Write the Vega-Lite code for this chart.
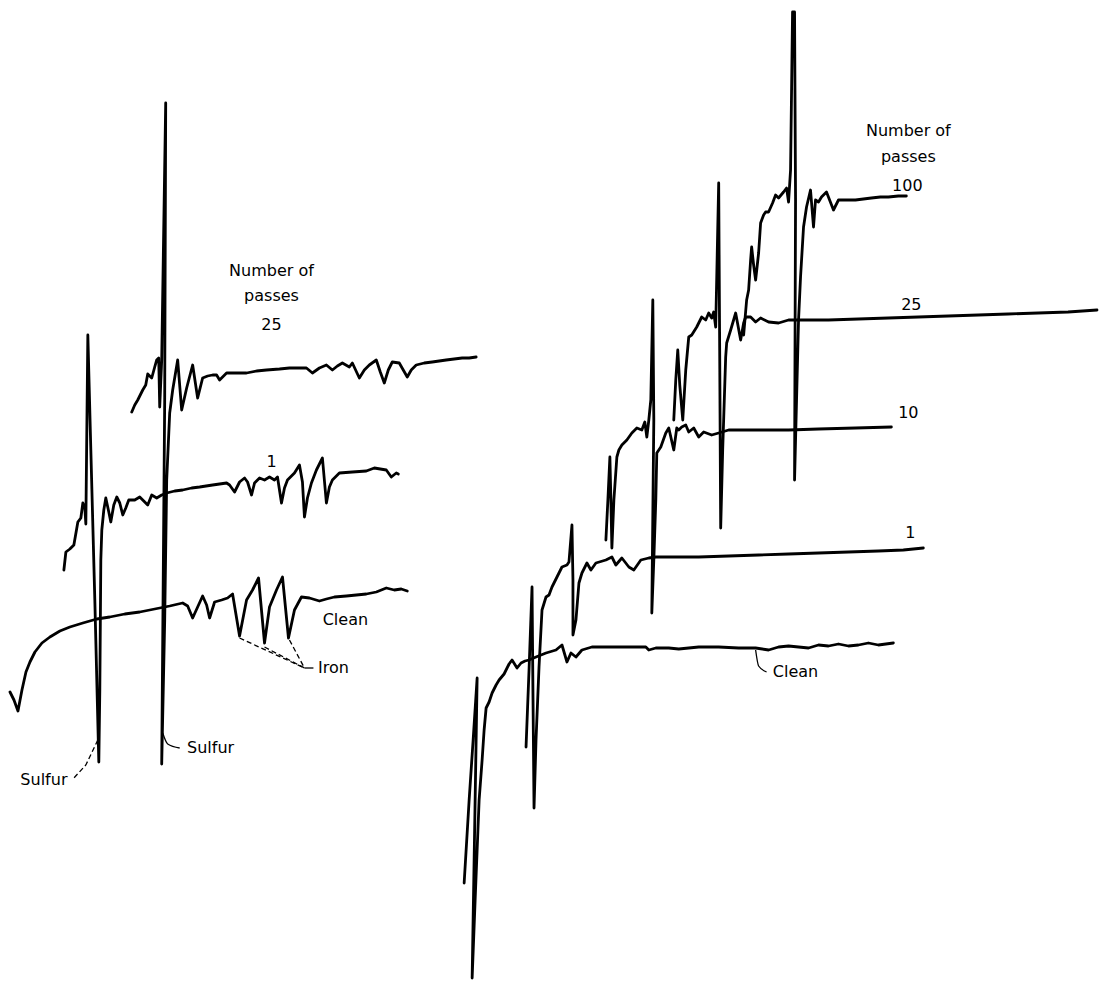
{
  "$schema": "https://vega.github.io/schema/vega-lite/v6.json",
  "autosize": {"type": "fit", "contains": "padding"},
  "width": 1099,
  "height": 982,
  "padding": 0,
  "background": "white",
  "config": {"view": {"stroke": null}},
  "datasets": {
    "traces": [
      {"s":"L0","i":0,"x":10,"y":692},{"s":"L0","i":1,"x":14,"y":700},{"s":"L0","i":2,"x":18,"y":711},{"s":"L0","i":3,"x":22,"y":690},{"s":"L0","i":4,"x":26,"y":672},{"s":"L0","i":5,"x":30,"y":662},{"s":"L0","i":6,"x":35,"y":652},{"s":"L0","i":7,"x":42,"y":643},{"s":"L0","i":8,"x":50,"y":637},{"s":"L0","i":9,"x":60,"y":631},{"s":"L0","i":10,"x":70,"y":627},{"s":"L0","i":11,"x":83,"y":623},{"s":"L0","i":12,"x":97,"y":619},{"s":"L0","i":13,"x":110,"y":617},{"s":"L0","i":14,"x":125,"y":614},{"s":"L0","i":15,"x":140,"y":612},{"s":"L0","i":16,"x":155,"y":609},{"s":"L0","i":17,"x":170,"y":606},{"s":"L0","i":18,"x":183,"y":603},{"s":"L0","i":19,"x":188,"y":606},{"s":"L0","i":20,"x":193,"y":618},{"s":"L0","i":21,"x":198,"y":607},{"s":"L0","i":22,"x":203,"y":596},{"s":"L0","i":23,"x":207,"y":605},{"s":"L0","i":24,"x":210,"y":618},{"s":"L0","i":25,"x":215,"y":602},{"s":"L0","i":26,"x":222,"y":600},{"s":"L0","i":27,"x":228,"y":598},{"s":"L0","i":28,"x":233,"y":594},{"s":"L0","i":29,"x":240,"y":636},{"s":"L0","i":30,"x":247,"y":600},{"s":"L0","i":31,"x":253,"y":590},{"s":"L0","i":32,"x":259,"y":578},{"s":"L0","i":33,"x":265,"y":643},{"s":"L0","i":34,"x":270,"y":607},{"s":"L0","i":35,"x":277,"y":590},{"s":"L0","i":36,"x":283,"y":577},{"s":"L0","i":37,"x":289,"y":638},{"s":"L0","i":38,"x":295,"y":610},{"s":"L0","i":39,"x":302,"y":597},{"s":"L0","i":40,"x":310,"y":598},{"s":"L0","i":41,"x":320,"y":601},{"s":"L0","i":42,"x":327,"y":599},{"s":"L0","i":43,"x":335,"y":597},{"s":"L0","i":44,"x":347,"y":596},{"s":"L0","i":45,"x":357,"y":595},{"s":"L0","i":46,"x":367,"y":594},{"s":"L0","i":47,"x":377,"y":592},{"s":"L0","i":48,"x":387,"y":588},{"s":"L0","i":49,"x":395,"y":590},{"s":"L0","i":50,"x":402,"y":589},{"s":"L0","i":51,"x":408,"y":591},

      {"s":"L1","i":0,"x":64,"y":570},{"s":"L1","i":1,"x":66,"y":552},{"s":"L1","i":2,"x":70,"y":549},{"s":"L1","i":3,"x":74,"y":545},{"s":"L1","i":4,"x":78,"y":522},{"s":"L1","i":5,"x":81,"y":518},{"s":"L1","i":6,"x":83,"y":503},{"s":"L1","i":7,"x":85,"y":508},{"s":"L1","i":8,"x":86,"y":524},{"s":"L1","i":9,"x":88,"y":335},{"s":"L1","i":10,"x":91,"y":450},{"s":"L1","i":11,"x":95,"y":600},{"s":"L1","i":12,"x":99,"y":762},{"s":"L1","i":13,"x":100,"y":690},{"s":"L1","i":14,"x":101,"y":560},{"s":"L1","i":15,"x":102,"y":530},{"s":"L1","i":16,"x":104,"y":510},{"s":"L1","i":17,"x":106,"y":498},{"s":"L1","i":18,"x":109,"y":512},{"s":"L1","i":19,"x":111,"y":522},{"s":"L1","i":20,"x":114,"y":505},{"s":"L1","i":21,"x":117,"y":497},{"s":"L1","i":22,"x":120,"y":503},{"s":"L1","i":23,"x":123,"y":515},{"s":"L1","i":24,"x":126,"y":508},{"s":"L1","i":25,"x":129,"y":500},{"s":"L1","i":26,"x":135,"y":500},{"s":"L1","i":27,"x":140,"y":497},{"s":"L1","i":28,"x":145,"y":502},{"s":"L1","i":29,"x":148,"y":505},{"s":"L1","i":30,"x":152,"y":495},{"s":"L1","i":31,"x":157,"y":498},{"s":"L1","i":32,"x":162,"y":495},{"s":"L1","i":33,"x":167,"y":493},{"s":"L1","i":34,"x":175,"y":491},{"s":"L1","i":35,"x":183,"y":490},{"s":"L1","i":36,"x":192,"y":488},{"s":"L1","i":37,"x":200,"y":487},{"s":"L1","i":38,"x":213,"y":485},{"s":"L1","i":39,"x":227,"y":483},{"s":"L1","i":40,"x":230,"y":485},{"s":"L1","i":41,"x":235,"y":492},{"s":"L1","i":42,"x":240,"y":482},{"s":"L1","i":43,"x":245,"y":478},{"s":"L1","i":44,"x":248,"y":482},{"s":"L1","i":45,"x":252,"y":495},{"s":"L1","i":46,"x":255,"y":483},{"s":"L1","i":47,"x":260,"y":478},{"s":"L1","i":48,"x":265,"y":480},{"s":"L1","i":49,"x":270,"y":477},{"s":"L1","i":50,"x":275,"y":480},{"s":"L1","i":51,"x":278,"y":477},{"s":"L1","i":52,"x":282,"y":503},{"s":"L1","i":53,"x":285,"y":488},{"s":"L1","i":54,"x":288,"y":480},{"s":"L1","i":55,"x":295,"y":473},{"s":"L1","i":56,"x":300,"y":465},{"s":"L1","i":57,"x":303,"y":482},{"s":"L1","i":58,"x":305,"y":517},{"s":"L1","i":59,"x":308,"y":498},{"s":"L1","i":60,"x":312,"y":483},{"s":"L1","i":61,"x":317,"y":470},{"s":"L1","i":62,"x":323,"y":458},{"s":"L1","i":63,"x":327,"y":503},{"s":"L1","i":64,"x":330,"y":487},{"s":"L1","i":65,"x":333,"y":480},{"s":"L1","i":66,"x":340,"y":473},{"s":"L1","i":67,"x":353,"y":472},{"s":"L1","i":68,"x":367,"y":471},{"s":"L1","i":69,"x":375,"y":468},{"s":"L1","i":70,"x":387,"y":470},{"s":"L1","i":71,"x":392,"y":477},{"s":"L1","i":72,"x":397,"y":473},{"s":"L1","i":73,"x":399,"y":474},

      {"s":"L25","i":0,"x":132,"y":412},{"s":"L25","i":1,"x":135,"y":405},{"s":"L25","i":2,"x":138,"y":400},{"s":"L25","i":3,"x":143,"y":390},{"s":"L25","i":4,"x":146,"y":385},{"s":"L25","i":5,"x":148,"y":374},{"s":"L25","i":6,"x":152,"y":378},{"s":"L25","i":7,"x":155,"y":367},{"s":"L25","i":8,"x":157,"y":360},{"s":"L25","i":9,"x":159,"y":358},{"s":"L25","i":10,"x":160,"y":407},{"s":"L25","i":11,"x":162,"y":360},{"s":"L25","i":12,"x":166,"y":103},{"s":"L25","i":13,"x":165,"y":400},{"s":"L25","i":14,"x":162,"y":764},{"s":"L25","i":15,"x":165,"y":620},{"s":"L25","i":16,"x":167,"y":480},{"s":"L25","i":17,"x":170,"y":413},{"s":"L25","i":18,"x":173,"y":390},{"s":"L25","i":19,"x":178,"y":360},{"s":"L25","i":20,"x":182,"y":410},{"s":"L25","i":21,"x":187,"y":388},{"s":"L25","i":22,"x":193,"y":365},{"s":"L25","i":23,"x":198,"y":398},{"s":"L25","i":24,"x":203,"y":378},{"s":"L25","i":25,"x":208,"y":376},{"s":"L25","i":26,"x":213,"y":375},{"s":"L25","i":27,"x":217,"y":375},{"s":"L25","i":28,"x":220,"y":380},{"s":"L25","i":29,"x":227,"y":373},{"s":"L25","i":30,"x":237,"y":373},{"s":"L25","i":31,"x":247,"y":373},{"s":"L25","i":32,"x":257,"y":371},{"s":"L25","i":33,"x":267,"y":370},{"s":"L25","i":34,"x":280,"y":369},{"s":"L25","i":35,"x":290,"y":368},{"s":"L25","i":36,"x":300,"y":368},{"s":"L25","i":37,"x":307,"y":368},{"s":"L25","i":38,"x":313,"y":373},{"s":"L25","i":39,"x":320,"y":368},{"s":"L25","i":40,"x":327,"y":365},{"s":"L25","i":41,"x":333,"y":370},{"s":"L25","i":42,"x":338,"y":366},{"s":"L25","i":43,"x":343,"y":363},{"s":"L25","i":44,"x":350,"y":367},{"s":"L25","i":45,"x":353,"y":363},{"s":"L25","i":46,"x":360,"y":378},{"s":"L25","i":47,"x":365,"y":370},{"s":"L25","i":48,"x":370,"y":365},{"s":"L25","i":49,"x":377,"y":360},{"s":"L25","i":50,"x":381,"y":372},{"s":"L25","i":51,"x":385,"y":383},{"s":"L25","i":52,"x":389,"y":370},{"s":"L25","i":53,"x":393,"y":362},{"s":"L25","i":54,"x":400,"y":363},{"s":"L25","i":55,"x":404,"y":370},{"s":"L25","i":56,"x":408,"y":377},{"s":"L25","i":57,"x":412,"y":370},{"s":"L25","i":58,"x":417,"y":365},{"s":"L25","i":59,"x":425,"y":363},{"s":"L25","i":60,"x":433,"y":362},{"s":"L25","i":61,"x":440,"y":361},{"s":"L25","i":62,"x":447,"y":360},{"s":"L25","i":63,"x":455,"y":359},{"s":"L25","i":64,"x":463,"y":358},{"s":"L25","i":65,"x":470,"y":358},{"s":"L25","i":66,"x":477,"y":357},

      {"s":"R0","i":0,"x":465,"y":883},{"s":"R0","i":1,"x":470,"y":800},{"s":"R0","i":2,"x":474,"y":740},{"s":"R0","i":3,"x":478,"y":678},{"s":"R0","i":4,"x":476,"y":800},{"s":"R0","i":5,"x":473,"y":978},{"s":"R0","i":6,"x":476,"y":900},{"s":"R0","i":7,"x":480,"y":800},{"s":"R0","i":8,"x":483,"y":760},{"s":"R0","i":9,"x":485,"y":730},{"s":"R0","i":10,"x":487,"y":708},{"s":"R0","i":11,"x":490,"y":702},{"s":"R0","i":12,"x":493,"y":693},{"s":"R0","i":13,"x":497,"y":685},{"s":"R0","i":14,"x":500,"y":680},{"s":"R0","i":15,"x":505,"y":674},{"s":"R0","i":16,"x":510,"y":664},{"s":"R0","i":17,"x":513,"y":660},{"s":"R0","i":18,"x":518,"y":668},{"s":"R0","i":19,"x":522,"y":663},{"s":"R0","i":20,"x":526,"y":661},{"s":"R0","i":21,"x":530,"y":660},{"s":"R0","i":22,"x":537,"y":657},{"s":"R0","i":23,"x":547,"y":653},{"s":"R0","i":24,"x":557,"y":650},{"s":"R0","i":25,"x":563,"y":645},{"s":"R0","i":26,"x":568,"y":662},{"s":"R0","i":27,"x":572,"y":653},{"s":"R0","i":28,"x":577,"y":657},{"s":"R0","i":29,"x":583,"y":650},{"s":"R0","i":30,"x":593,"y":647},{"s":"R0","i":31,"x":605,"y":647},{"s":"R0","i":32,"x":617,"y":647},{"s":"R0","i":33,"x":630,"y":647},{"s":"R0","i":34,"x":647,"y":647},{"s":"R0","i":35,"x":650,"y":650},{"s":"R0","i":36,"x":657,"y":648},{"s":"R0","i":37,"x":670,"y":648},{"s":"R0","i":38,"x":680,"y":649},{"s":"R0","i":39,"x":690,"y":648},{"s":"R0","i":40,"x":700,"y":647},{"s":"R0","i":41,"x":720,"y":647},{"s":"R0","i":42,"x":740,"y":648},{"s":"R0","i":43,"x":757,"y":648},{"s":"R0","i":44,"x":770,"y":650},{"s":"R0","i":45,"x":780,"y":647},{"s":"R0","i":46,"x":790,"y":646},{"s":"R0","i":47,"x":800,"y":647},{"s":"R0","i":48,"x":810,"y":648},{"s":"R0","i":49,"x":820,"y":645},{"s":"R0","i":50,"x":830,"y":646},{"s":"R0","i":51,"x":840,"y":644},{"s":"R0","i":52,"x":850,"y":646},{"s":"R0","i":53,"x":860,"y":645},{"s":"R0","i":54,"x":870,"y":643},{"s":"R0","i":55,"x":880,"y":645},{"s":"R0","i":56,"x":895,"y":643},

      {"s":"R1","i":0,"x":527,"y":747},{"s":"R1","i":1,"x":530,"y":670},{"s":"R1","i":2,"x":533,"y":587},{"s":"R1","i":3,"x":534,"y":700},{"s":"R1","i":4,"x":535,"y":808},{"s":"R1","i":5,"x":537,"y":740},{"s":"R1","i":6,"x":540,"y":667},{"s":"R1","i":7,"x":543,"y":610},{"s":"R1","i":8,"x":547,"y":597},{"s":"R1","i":9,"x":550,"y":595},{"s":"R1","i":10,"x":553,"y":587},{"s":"R1","i":11,"x":558,"y":577},{"s":"R1","i":12,"x":563,"y":567},{"s":"R1","i":13,"x":568,"y":565},{"s":"R1","i":14,"x":570,"y":562},{"s":"R1","i":15,"x":573,"y":525},{"s":"R1","i":16,"x":574,"y":580},{"s":"R1","i":17,"x":574,"y":635},{"s":"R1","i":18,"x":576,"y":625},{"s":"R1","i":19,"x":577,"y":620},{"s":"R1","i":20,"x":580,"y":583},{"s":"R1","i":21,"x":583,"y":573},{"s":"R1","i":22,"x":588,"y":563},{"s":"R1","i":23,"x":592,"y":570},{"s":"R1","i":24,"x":597,"y":563},{"s":"R1","i":25,"x":607,"y":560},{"s":"R1","i":26,"x":613,"y":557},{"s":"R1","i":27,"x":617,"y":565},{"s":"R1","i":28,"x":623,"y":558},{"s":"R1","i":29,"x":630,"y":567},{"s":"R1","i":30,"x":635,"y":570},{"s":"R1","i":31,"x":642,"y":560},{"s":"R1","i":32,"x":650,"y":558},{"s":"R1","i":33,"x":657,"y":557},{"s":"R1","i":34,"x":680,"y":557},{"s":"R1","i":35,"x":700,"y":557},{"s":"R1","i":36,"x":730,"y":556},{"s":"R1","i":37,"x":760,"y":555},{"s":"R1","i":38,"x":790,"y":554},{"s":"R1","i":39,"x":820,"y":553},{"s":"R1","i":40,"x":850,"y":552},{"s":"R1","i":41,"x":880,"y":551},{"s":"R1","i":42,"x":905,"y":550},{"s":"R1","i":43,"x":915,"y":549},{"s":"R1","i":44,"x":925,"y":548},

      {"s":"R10","i":0,"x":607,"y":540},{"s":"R10","i":1,"x":609,"y":500},{"s":"R10","i":2,"x":611,"y":457},{"s":"R10","i":3,"x":612,"y":500},{"s":"R10","i":4,"x":613,"y":548},{"s":"R10","i":5,"x":615,"y":500},{"s":"R10","i":6,"x":618,"y":457},{"s":"R10","i":7,"x":620,"y":450},{"s":"R10","i":8,"x":623,"y":445},{"s":"R10","i":9,"x":628,"y":440},{"s":"R10","i":10,"x":633,"y":433},{"s":"R10","i":11,"x":638,"y":428},{"s":"R10","i":12,"x":643,"y":430},{"s":"R10","i":13,"x":646,"y":422},{"s":"R10","i":14,"x":648,"y":437},{"s":"R10","i":15,"x":650,"y":420},{"s":"R10","i":16,"x":652,"y":400},{"s":"R10","i":17,"x":654,"y":300},{"s":"R10","i":18,"x":655,"y":420},{"s":"R10","i":19,"x":653,"y":613},{"s":"R10","i":20,"x":655,"y":560},{"s":"R10","i":21,"x":657,"y":500},{"s":"R10","i":22,"x":658,"y":453},{"s":"R10","i":23,"x":662,"y":447},{"s":"R10","i":24,"x":667,"y":433},{"s":"R10","i":25,"x":670,"y":428},{"s":"R10","i":26,"x":675,"y":450},{"s":"R10","i":27,"x":678,"y":428},{"s":"R10","i":28,"x":680,"y":430},{"s":"R10","i":29,"x":683,"y":427},{"s":"R10","i":30,"x":687,"y":425},{"s":"R10","i":31,"x":690,"y":432},{"s":"R10","i":32,"x":695,"y":428},{"s":"R10","i":33,"x":700,"y":437},{"s":"R10","i":34,"x":705,"y":432},{"s":"R10","i":35,"x":713,"y":435},{"s":"R10","i":36,"x":720,"y":433},{"s":"R10","i":37,"x":730,"y":430},{"s":"R10","i":38,"x":760,"y":430},{"s":"R10","i":39,"x":790,"y":430},{"s":"R10","i":40,"x":820,"y":429},{"s":"R10","i":41,"x":857,"y":428},{"s":"R10","i":42,"x":893,"y":427},

      {"s":"R25","i":0,"x":675,"y":420},{"s":"R25","i":1,"x":677,"y":380},{"s":"R25","i":2,"x":679,"y":350},{"s":"R25","i":3,"x":681,"y":385},{"s":"R25","i":4,"x":684,"y":420},{"s":"R25","i":5,"x":687,"y":370},{"s":"R25","i":6,"x":690,"y":337},{"s":"R25","i":7,"x":693,"y":335},{"s":"R25","i":8,"x":698,"y":327},{"s":"R25","i":9,"x":703,"y":317},{"s":"R25","i":10,"x":707,"y":320},{"s":"R25","i":11,"x":710,"y":313},{"s":"R25","i":12,"x":713,"y":318},{"s":"R25","i":13,"x":715,"y":312},{"s":"R25","i":14,"x":717,"y":327},{"s":"R25","i":15,"x":718,"y":280},{"s":"R25","i":16,"x":720,"y":183},{"s":"R25","i":17,"x":721,"y":350},{"s":"R25","i":18,"x":722,"y":528},{"s":"R25","i":19,"x":724,"y":450},{"s":"R25","i":20,"x":727,"y":357},{"s":"R25","i":21,"x":728,"y":343},{"s":"R25","i":22,"x":732,"y":330},{"s":"R25","i":23,"x":737,"y":313},{"s":"R25","i":24,"x":742,"y":340},{"s":"R25","i":25,"x":745,"y":323},{"s":"R25","i":26,"x":747,"y":317},{"s":"R25","i":27,"x":752,"y":317},{"s":"R25","i":28,"x":757,"y":322},{"s":"R25","i":29,"x":762,"y":318},{"s":"R25","i":30,"x":770,"y":322},{"s":"R25","i":31,"x":780,"y":323},{"s":"R25","i":32,"x":790,"y":320},{"s":"R25","i":33,"x":800,"y":320},{"s":"R25","i":34,"x":830,"y":320},{"s":"R25","i":35,"x":860,"y":319},{"s":"R25","i":36,"x":890,"y":318},{"s":"R25","i":37,"x":920,"y":317},{"s":"R25","i":38,"x":950,"y":316},{"s":"R25","i":39,"x":980,"y":315},{"s":"R25","i":40,"x":1010,"y":314},{"s":"R25","i":41,"x":1040,"y":313},{"s":"R25","i":42,"x":1070,"y":312},{"s":"R25","i":43,"x":1099,"y":310},

      {"s":"R100","i":0,"x":745,"y":335},{"s":"R100","i":1,"x":748,"y":300},{"s":"R100","i":2,"x":750,"y":290},{"s":"R100","i":3,"x":752,"y":260},{"s":"R100","i":4,"x":753,"y":247},{"s":"R100","i":5,"x":755,"y":265},{"s":"R100","i":6,"x":757,"y":280},{"s":"R100","i":7,"x":760,"y":253},{"s":"R100","i":8,"x":762,"y":223},{"s":"R100","i":9,"x":765,"y":215},{"s":"R100","i":10,"x":767,"y":212},{"s":"R100","i":11,"x":770,"y":212},{"s":"R100","i":12,"x":774,"y":203},{"s":"R100","i":13,"x":777,"y":195},{"s":"R100","i":14,"x":780,"y":198},{"s":"R100","i":15,"x":785,"y":192},{"s":"R100","i":16,"x":788,"y":188},{"s":"R100","i":17,"x":790,"y":202},{"s":"R100","i":18,"x":792,"y":170},{"s":"R100","i":19,"x":794,"y":12},{"s":"R100","i":20,"x":796,"y":12},{"s":"R100","i":21,"x":797,"y":200},{"s":"R100","i":22,"x":796,"y":480},{"s":"R100","i":23,"x":798,"y":400},{"s":"R100","i":24,"x":800,"y":320},{"s":"R100","i":25,"x":802,"y":277},{"s":"R100","i":26,"x":805,"y":227},{"s":"R100","i":27,"x":808,"y":207},{"s":"R100","i":28,"x":812,"y":190},{"s":"R100","i":29,"x":815,"y":227},{"s":"R100","i":30,"x":817,"y":200},{"s":"R100","i":31,"x":820,"y":202},{"s":"R100","i":32,"x":823,"y":197},{"s":"R100","i":33,"x":828,"y":192},{"s":"R100","i":34,"x":835,"y":210},{"s":"R100","i":35,"x":840,"y":200},{"s":"R100","i":36,"x":850,"y":200},{"s":"R100","i":37,"x":857,"y":200},{"s":"R100","i":38,"x":865,"y":199},{"s":"R100","i":39,"x":873,"y":198},{"s":"R100","i":40,"x":882,"y":197},{"s":"R100","i":41,"x":890,"y":197},{"s":"R100","i":42,"x":900,"y":196},{"s":"R100","i":43,"x":908,"y":196}
    ],
    "dashed": [
      {"s":"I1","i":0,"x":240,"y":638},{"s":"I1","i":1,"x":305,"y":668},
      {"s":"I2","i":0,"x":265,"y":647},{"s":"I2","i":1,"x":305,"y":668},
      {"s":"I3","i":0,"x":290,"y":640},{"s":"I3","i":1,"x":305,"y":668},
      {"s":"S1","i":0,"x":98,"y":740},{"s":"S1","i":1,"x":86,"y":765},{"s":"S1","i":2,"x":74,"y":778}
    ],
    "solid": [
      {"s":"I0","i":0,"x":305,"y":668},{"s":"I0","i":1,"x":314,"y":668},
      {"s":"S2","i":0,"x":163,"y":733},{"s":"S2","i":1,"x":168,"y":744},{"s":"S2","i":2,"x":180,"y":748},
      {"s":"C1","i":0,"x":757,"y":650},{"s":"C1","i":1,"x":760,"y":666},{"s":"C1","i":2,"x":768,"y":672}
    ],
    "labels": [
      {"t":"Number of","x":272,"y":271},{"t":"passes","x":272,"y":296},{"t":"25","x":272,"y":325},
      {"t":"1","x":272,"y":462},{"t":"Clean","x":346,"y":620},{"t":"Iron","x":334,"y":668},
      {"t":"Sulfur","x":211,"y":748},{"t":"Sulfur","x":44,"y":780},
      {"t":"Number of","x":910,"y":131},{"t":"passes","x":910,"y":157},{"t":"100","x":909,"y":186},
      {"t":"25","x":913,"y":305},{"t":"10","x":910,"y":413},{"t":"1","x":912,"y":533},{"t":"Clean","x":797,"y":672}
    ]
  },
  "layer": [
    {
      "data": {"name": "traces"},
      "mark": {"type": "line", "stroke": "black", "strokeWidth": 2.8, "strokeJoin": "round", "strokeCap": "round"},
      "encoding": {
        "x": {"field": "x", "type": "quantitative", "scale": {"domain": [0, 1099], "nice": false, "zero": false}, "axis": null},
        "y": {"field": "y", "type": "quantitative", "scale": {"domain": [0, 982], "nice": false, "zero": false, "reverse": true}, "axis": null},
        "detail": {"field": "s"},
        "order": {"field": "i", "type": "quantitative"}
      }
    },
    {
      "data": {"name": "dashed"},
      "mark": {"type": "line", "stroke": "black", "strokeWidth": 1.3, "strokeDash": [5, 3]},
      "encoding": {
        "x": {"field": "x", "type": "quantitative", "scale": {"domain": [0, 1099], "nice": false, "zero": false}, "axis": null},
        "y": {"field": "y", "type": "quantitative", "scale": {"domain": [0, 982], "nice": false, "zero": false, "reverse": true}, "axis": null},
        "detail": {"field": "s"},
        "order": {"field": "i", "type": "quantitative"}
      }
    },
    {
      "data": {"name": "solid"},
      "mark": {"type": "line", "stroke": "black", "strokeWidth": 1.3, "interpolate": "monotone"},
      "encoding": {
        "x": {"field": "x", "type": "quantitative", "scale": {"domain": [0, 1099], "nice": false, "zero": false}, "axis": null},
        "y": {"field": "y", "type": "quantitative", "scale": {"domain": [0, 982], "nice": false, "zero": false, "reverse": true}, "axis": null},
        "detail": {"field": "s"},
        "order": {"field": "i", "type": "quantitative"}
      }
    },
    {
      "data": {"name": "labels"},
      "mark": {"type": "text", "font": "DejaVu Sans", "fontSize": 16, "align": "center", "baseline": "middle", "color": "black"},
      "encoding": {
        "x": {"field": "x", "type": "quantitative", "scale": {"domain": [0, 1099], "nice": false, "zero": false}, "axis": null},
        "y": {"field": "y", "type": "quantitative", "scale": {"domain": [0, 982], "nice": false, "zero": false, "reverse": true}, "axis": null},
        "text": {"field": "t"}
      }
    }
  ]
}
